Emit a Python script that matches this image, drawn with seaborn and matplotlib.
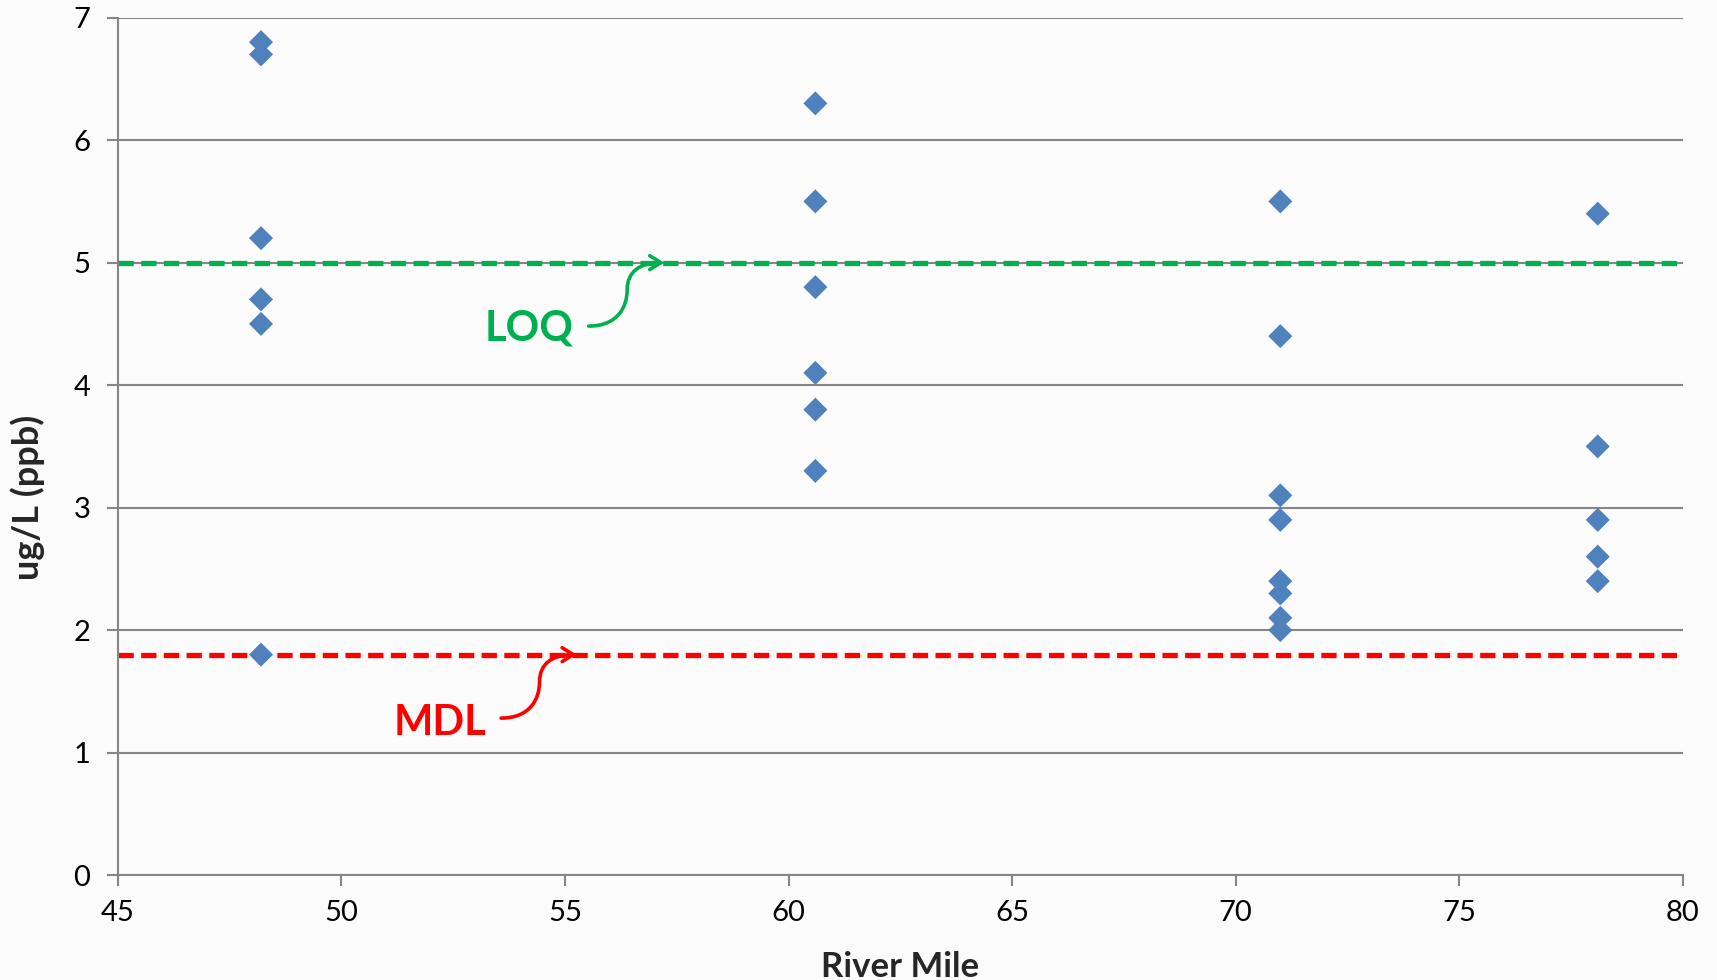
import numpy as np
import pandas as pd
import matplotlib
matplotlib.use("Agg")
import matplotlib.pyplot as plt
import seaborn as sns
from matplotlib.path import Path
from matplotlib.patches import FancyArrowPatch

# data
river_mile = [48.2] * 6 + [60.6] * 6 + [71.0] * 8 + [78.1] * 5
conc = [6.8, 6.7, 5.2, 4.7, 4.5, 1.8,
        6.3, 5.5, 4.8, 4.1, 3.8, 3.3,
        5.5, 4.4, 3.1, 2.9, 2.4, 2.3, 2.1, 2.0,
        5.4, 3.5, 2.9, 2.6, 2.4]
loq = 5.0
mdl = 1.8
x_ticks = [45, 50, 55, 60, 65, 70, 75, 80]
y_ticks = [0, 1, 2, 3, 4, 5, 6, 7]

df = pd.DataFrame({"River Mile": river_mile, "ug/L (ppb)": conc})

sns.set_style("white")
plt.rcParams['font.family'] = ['Lato', 'DejaVu Sans']

fig = plt.figure(figsize=(17.17, 9.8), dpi=100)
ax = fig.add_axes([0.0687, 0.107, 0.9113, 0.875])
fig.patch.set_facecolor("#fbfbfb")
ax.set_facecolor("#fbfbfb")

grid_c = "#868686"
for t in y_ticks:
    ax.axhline(t, color=grid_c, lw=1.5, zorder=0)

ax.axhline(loq, color="#00B050", lw=3.8, dashes=(2.9, 1.4), zorder=2)
ax.axhline(mdl, color="#FF0000", lw=3.8, dashes=(2.9, 1.4), zorder=2)

sns.scatterplot(data=df, x="River Mile", y="ug/L (ppb)", marker="D", s=150,
                color="#4F81BD", edgecolor="none", ax=ax, zorder=3)

ax.set_xlim(45, 80)
ax.set_ylim(0, 7)
ax.set_xticks(x_ticks)
ax.set_yticks(y_ticks)

for s in ["top", "right"]:
    ax.spines[s].set_visible(False)
for s in ["left", "bottom"]:
    ax.spines[s].set_color(grid_c)
    ax.spines[s].set_linewidth(1.5)
ax.tick_params(axis="both", direction="out", length=8, width=1.5, color=grid_c,
               labelsize=21, labelcolor="black", left=True, bottom=True)
ax.tick_params(axis="x", pad=10)
ax.tick_params(axis="y", pad=12)

ax.set_xlabel("River Mile", fontsize=25, fontweight="bold", labelpad=18)
ax.set_ylabel("ug/L (ppb)", fontsize=26, fontweight="bold", va="center")
# the label sits a little below the middle of the axis in the original
ax.yaxis.set_label_coords(-0.0575, 0.441)


def curly_arrow(x_end, y_end, color):
    # S-shaped arrow ending on the dashed line
    verts = [(x_end - 1.69, y_end - 0.518),
             (x_end - 1.03, y_end - 0.518),
             (x_end - 0.83, y_end - 0.357),
             (x_end - 0.83, y_end - 0.223),
             (x_end - 0.83, y_end - 0.071),
             (x_end - 0.54, y_end),
             (x_end, y_end)]
    codes = [Path.MOVETO] + [Path.CURVE4] * 6
    p = FancyArrowPatch(path=Path(verts, codes), arrowstyle="->,head_length=8,head_width=5",
                        color=color, lw=2.6, zorder=4)
    ax.add_patch(p)


ax.text(54.2, 4.46, "LOQ", color="#00B050", fontsize=30, fontweight="bold",
        ha="center", va="center")
curly_arrow(57.22, loq, "#00B050")

ax.text(52.2, 1.24, "MDL", color="#FF0000", fontsize=30, fontweight="bold",
        ha="center", va="center")
curly_arrow(55.26, mdl, "#FF0000")

fig.savefig("out.png", dpi=100, facecolor=fig.get_facecolor())
